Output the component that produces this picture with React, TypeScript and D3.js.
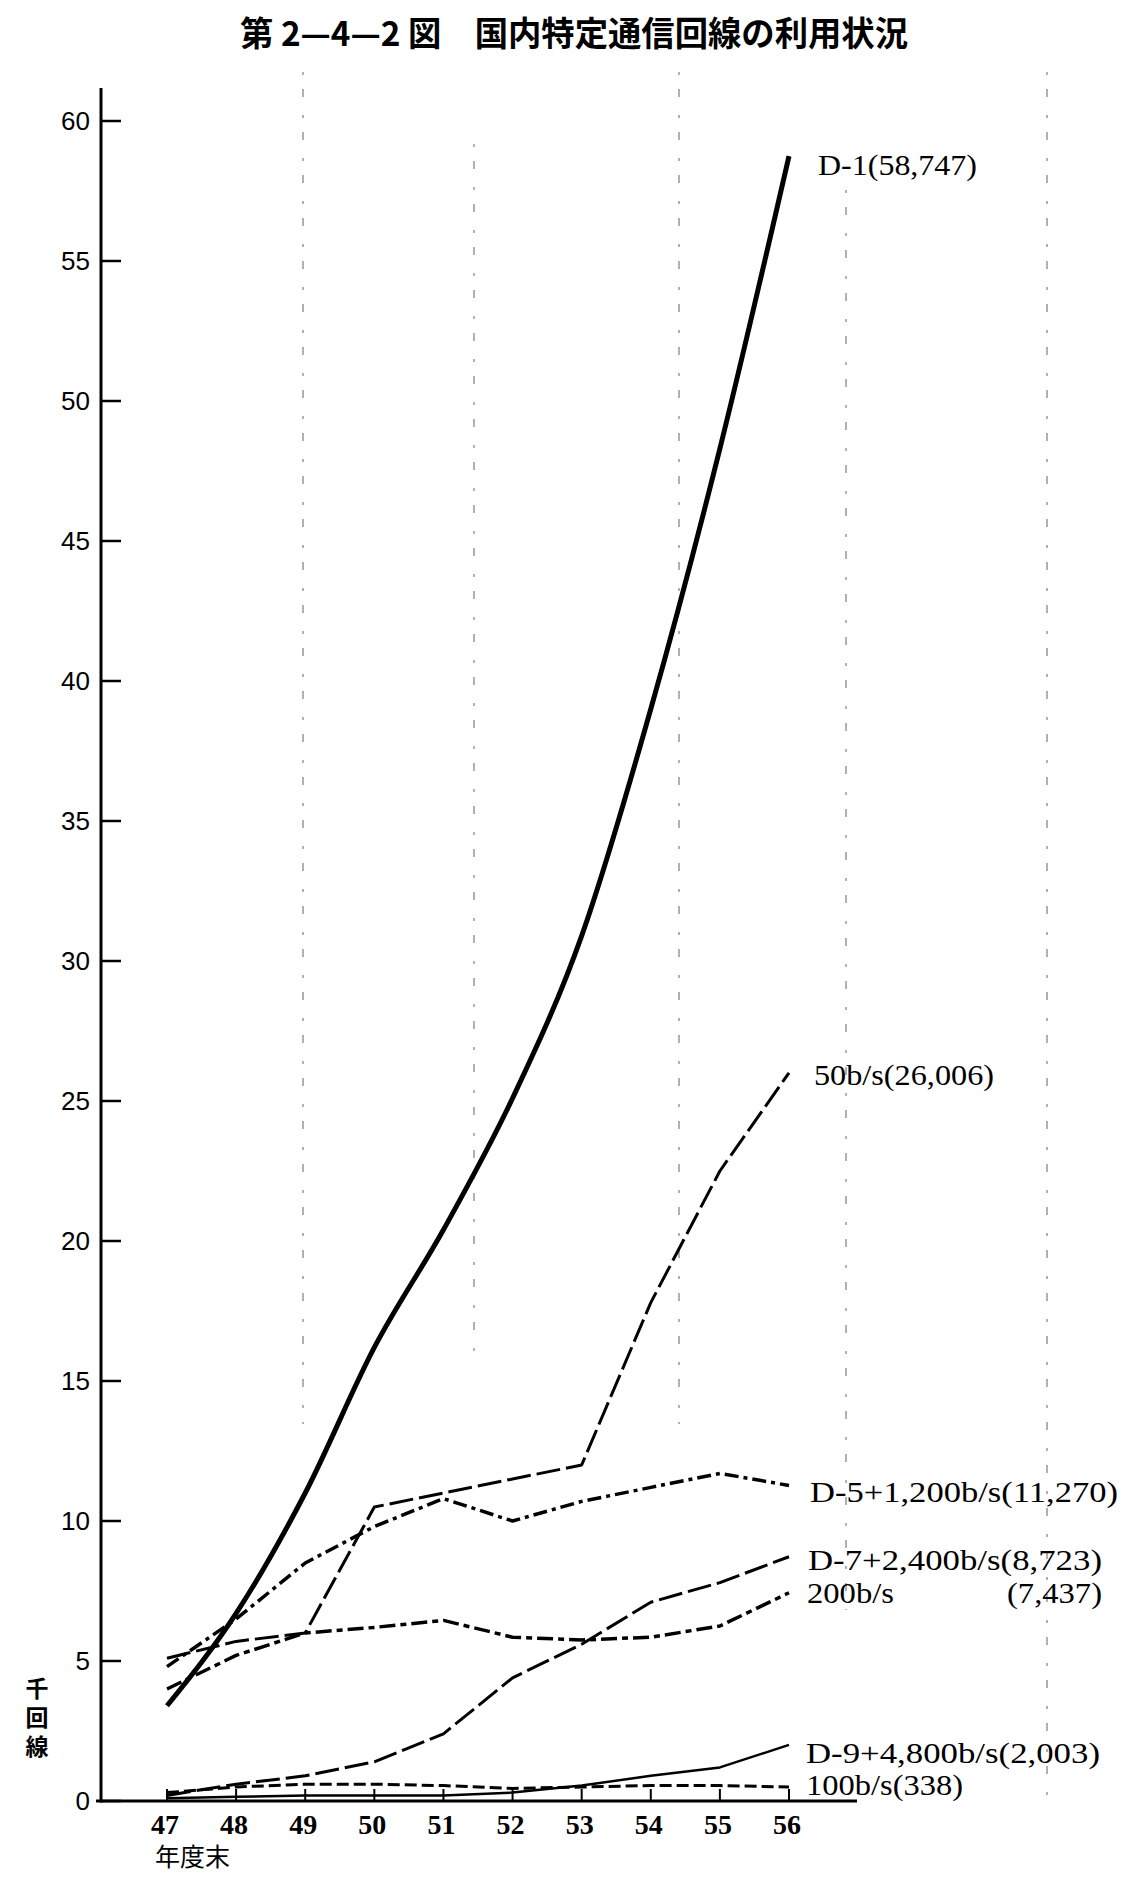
import React from 'react';
import * as d3 from 'd3';

// ---- data (thousand circuits, end of fiscal year) ----
const years = [47, 48, 49, 50, 51, 52, 53, 54, 55, 56];
const yTicks = [0, 5, 10, 15, 20, 25, 30, 35, 40, 45, 50, 55, 60];

const d1Values = [3.4, 6.7, 11.0, 16.2, 20.4, 25.1, 30.9, 39.0, 48.3, 58.747];
const b50Values = [5.1, 5.7, 6.0, 10.5, 11.0, 11.5, 12.0, 17.8, 22.5, 26.006];
const d5Values = [4.8, 6.5, 8.5, 9.8, 10.8, 10.0, 10.7, 11.2, 11.7, 11.27];
const b200Values = [4.0, 5.2, 6.0, 6.2, 6.45, 5.85, 5.75, 5.85, 6.25, 7.437];
const d7Values = [0.2, 0.6, 0.9, 1.4, 2.4, 4.4, 5.6, 7.1, 7.8, 8.723];
const d9Values = [0.1, 0.15, 0.2, 0.2, 0.2, 0.3, 0.55, 0.9, 1.2, 2.003];
const b100Values = [0.3, 0.5, 0.6, 0.6, 0.55, 0.45, 0.5, 0.55, 0.55, 0.5];

const seriesLabels = [
  'D-1(58,747)',
  '50b/s(26,006)',
  'D-5+1,200b/s(11,270)',
  'D-7+2,400b/s(8,723)',
  '200b/s',
  'D-9+4,800b/s(2,003)',
  '100b/s(338)',
];
const extraLabel = '(7,437)';

const title = '第 2—4—2 図　国内特定通信回線の利用状況';
const yUnit = '千回線';
const xUnit = '年度末';

// ---- layout / style ----
const W = 1125;
const H = 1877;
const x = d3.scaleLinear().domain([47, 56]).range([167, 789]);
const y = d3.scaleLinear().domain([0, 60]).range([1801, 121]);
const axisX = 101;

const styles = [
  { values: d1Values, width: 5, dash: '', curve: d3.curveMonotoneX },
  { values: b50Values, width: 3, dash: '24 6', curve: d3.curveLinear },
  { values: d5Values, width: 3.5, dash: '14 5 4 5', curve: d3.curveLinear },
  { values: d7Values, width: 3, dash: '24 6', curve: d3.curveLinear },
  { values: b200Values, width: 3.5, dash: '16 5 6 5', curve: d3.curveLinear },
  { values: d9Values, width: 2.5, dash: '', curve: d3.curveLinear },
  { values: b100Values, width: 3, dash: '12 5', curve: d3.curveLinear },
];

// label placement: [x, centerY, width]
const labelBoxes = [
  [818, 165, 159],
  [814, 1075, 180],
  [810, 1492, 308],
  [808, 1560, 294],
  [807, 1593, 87],
  [806, 1753, 294],
  [806, 1785, 157],
];
const extraBox = [1007, 1593, 95];

const artifactLines = [
  [303, 72, 1424],
  [474, 144, 1352],
  [679, 72, 1424],
  [846, 190, 1610],
  [1047, 72, 1795],
];

const serif = "'Liberation Serif', 'DejaVu Serif', serif";
const sans = "'Liberation Sans', Arial, sans-serif";
const cjk = "'Noto Sans CJK JP', 'Noto Sans CJK SC', sans-serif";

export default function App() {
  const lineGen = (curve: any) =>
    d3
      .line<number>()
      .x((_, i) => x(years[i]))
      .y((v) => y(v))
      .curve(curve);

  return (
    <svg
      width={W}
      height={H}
      viewBox={`0 0 ${W} ${H}`}
      style={{ position: 'absolute', left: 0, top: 0, background: '#fff' }}
    >
      <rect x={0} y={0} width={W} height={H} fill="#fff" />

      {/* faint show-through guide lines */}
      {artifactLines.map(([ax, y1, y2], i) => (
        <line
          key={'a' + i}
          x1={ax}
          x2={ax}
          y1={y1}
          y2={y2}
          stroke="#222"
          strokeWidth={1.4}
          strokeDasharray="3 14 8 18"
          opacity={0.5}
        />
      ))}

      {/* title */}
      <text
        x={240}
        y={46}
        fontFamily={cjk}
        fontWeight={700}
        fontSize={34}
        textLength={668}
        lengthAdjust="spacingAndGlyphs"
        fill="#000"
      >
        {title}
      </text>

      {/* y axis */}
      <line x1={axisX} x2={axisX} y1={88} y2={y(0) + 1.5} stroke="#000" strokeWidth={3} />
      {yTicks.map((t) => (
        <g key={'yt' + t}>
          <line x1={axisX} x2={axisX + 20} y1={y(t)} y2={y(t)} stroke="#000" strokeWidth={2.5} />
          <text
            x={90}
            y={y(t) + 9}
            textAnchor="end"
            fontFamily={sans}
            fontSize={26}
            fill="#000"
          >
            {t}
          </text>
        </g>
      ))}

      {/* x axis */}
      <line x1={96} x2={857} y1={y(0)} y2={y(0)} stroke="#000" strokeWidth={3} />
      {years.map((yr) => (
        <g key={'xt' + yr}>
          <line x1={x(yr)} x2={x(yr)} y1={y(0)} y2={y(0) - 12} stroke="#000" strokeWidth={2} />
          <text
            x={x(yr) - 2}
            y={1834}
            textAnchor="middle"
            fontFamily={serif}
            fontWeight={700}
            fontSize={28}
            fill="#000"
          >
            {yr}
          </text>
        </g>
      ))}
      <text x={155} y={1866} fontFamily={cjk} fontSize={25} fill="#000">
        {xUnit}
      </text>
      <text
        x={37}
        y={1677}
        writingMode="tb"
        style={{ writingMode: 'vertical-rl' } as any}
        fontFamily={cjk}
        fontWeight={700}
        fontSize={23}
        letterSpacing={6}
        fill="#000"
      >
        {yUnit}
      </text>

      {/* series */}
      {styles.map((s, i) => (
        <path
          key={'s' + i}
          d={lineGen(s.curve)(s.values) || ''}
          fill="none"
          stroke="#000"
          strokeWidth={s.width}
          strokeDasharray={s.dash || undefined}
          strokeLinejoin="round"
        />
      ))}

      {/* end labels */}
      {seriesLabels.map((lab, i) => {
        const [lx, ly, lw] = labelBoxes[i];
        return (
          <text
            key={'l' + i}
            x={lx}
            y={ly + 10}
            fontFamily={serif}
            fontSize={30}
            textLength={lw}
            lengthAdjust="spacingAndGlyphs"
            fill="#000"
          >
            {lab}
          </text>
        );
      })}
      <text
        x={extraBox[0]}
        y={extraBox[1] + 10}
        fontFamily={serif}
        fontSize={30}
        textLength={extraBox[2]}
        lengthAdjust="spacingAndGlyphs"
        fill="#000"
      >
        {extraLabel}
      </text>
    </svg>
  );
}
